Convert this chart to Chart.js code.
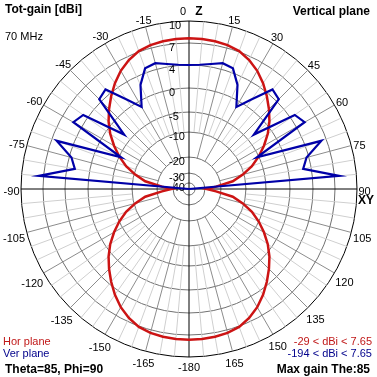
<!DOCTYPE html>
<html><head><meta charset="utf-8">
<script src="https://cdn.jsdelivr.net/npm/chart.js@4"></script>
<style>
html,body{margin:0;padding:0;background:#fff;}
#wrap{position:relative;width:377px;height:377px;overflow:hidden;font-family:"Liberation Sans",Arial,sans-serif;color:#000;}
canvas{position:absolute;left:0;top:0;}
.t{position:absolute;white-space:nowrap;line-height:1;}
.b{font-weight:bold;font-size:12px;}
.r{font-size:11px;}
</style></head><body>
<div id="wrap">
<canvas id="c" width="377" height="377"></canvas>
<div class="t b" style="left:5px;top:3px">Tot-gain [dBi]</div>
<div class="t r" style="left:5px;top:31px">70 MHz</div>
<div class="t b" style="right:7px;top:5px">Vertical plane</div>
<div class="t r" style="left:3px;top:336px;color:#c01818">Hor plane</div>
<div class="t r" style="left:3px;top:348px;color:#00008b">Ver plane</div>
<div class="t b" style="left:5px;top:363px">Theta=85, Phi=90</div>
<div class="t r" style="right:5px;top:336px;color:#c01818">-29 &lt; dBi &lt; 7.65</div>
<div class="t r" style="right:5px;top:348px;color:#00008b">-194 &lt; dBi &lt; 7.65</div>
<div class="t b" style="right:7px;top:363px">Max gain The:85</div>
</div>
<script>
// Angles (degrees, clockwise from zenith Z), 5 degree steps
const angles = [0,5,10,15,20,25,30,35,40,45,50,55,60,65,70,75,80,85,90,95,100,105,110,115,120,125,130,135,140,145,150,155,160,165,170,175,180,185,190,195,200,205,210,215,220,225,230,235,240,245,250,255,260,265,270,275,280,285,290,295,300,305,310,315,320,325,330,335,340,345,350,355];
// Horizontal plane gain (dBi)
const horGain = [7.65,7.62,7.55,7.4,7.1,6.5,5.7,4.7,3.5,2.1,0.7,-1.0,-3.0,-5.0,-7.5,-10.5,-15,-23,-29,-23,-15,-10.5,-7.5,-5.0,-3.0,-1.0,0.7,2.1,3.5,4.7,5.7,6.5,7.1,7.4,7.55,7.62,7.65,7.62,7.55,7.4,7.1,6.5,5.7,4.7,3.5,2.1,0.7,-1.0,-3.0,-5.0,-7.5,-10.5,-15,-23,-29,-23,-15,-10.5,-7.5,-5.0,-3.0,-1.0,0.7,2.1,3.5,4.7,5.7,6.5,7.1,7.4,7.55,7.62];
// Vertical plane gain (dBi), only -90..90 (above ground)
const verGain = [4.0,4.1,4.4,4.85,4.6,2.4,-1.3,1.5,4.8,4.4,-3.4,4.7,5.3,-5.5,6.3,3.6,2.6,7.65,-194,null,null,null,null,null,null,null,null,null,null,null,null,null,null,null,null,null,null,null,null,null,null,null,null,null,null,null,null,null,null,null,null,null,null,null,-194,7.65,2.6,3.6,6.3,-5.5,5.3,4.7,-3.4,4.4,4.8,1.5,-1.3,2.4,4.6,4.85,4.4,4.1];
// Radial (log-like) scale: ring values and their relative radius
const ringDb = [10,7,4,0,-5,-10,-20,-30,-40];
const ringFrac = [1.0,0.869,0.738,0.601,0.458,0.339,0.19,0.095,0.036];

function toR(db){
  if (db === null) return null;
  if (db >= ringDb[0]) return 1;
  for (let i=0;i<ringDb.length-1;i++){
    const a=ringDb[i], b=ringDb[i+1];
    if (db<=a && db>=b){
      return ringFrac[i+1] + (db-b)/(a-b)*(ringFrac[i]-ringFrac[i+1]);
    }
  }
  const last = ringFrac[ringFrac.length-1];
  return Math.max(0, last*(db+50)/10);
}

const FONT = '"Liberation Sans", Arial, sans-serif';

const polarGrid = {
  id:'polarGrid',
  beforeDatasetsDraw(chart){
    const s = chart.scales.r, ctx = chart.ctx;
    const cx = s.xCenter, cy = s.yCenter;
    const Rout = s.getDistanceFromCenterForValue(1);
    const r10 = s.getDistanceFromCenterForValue(toR(-10));
    const r20 = s.getDistanceFromCenterForValue(toR(-20));
    ctx.save();
    ctx.lineWidth = 1;
    // light 5-degree spokes
    for (let pass=0; pass<2; pass++){
      angles.forEach((a,i)=>{
        if (a % 90 === 0) return;
        const major = a % 15 === 0;
        if ((pass===0) === major) return;
        const r0 = major ? r20 : r10;
        const p0 = s.getPointPosition(i, r0), p1 = s.getPointPosition(i, Rout);
        ctx.strokeStyle = major ? '#8c8c8c' : '#cfcfcf';
        ctx.beginPath(); ctx.moveTo(p0.x, p0.y); ctx.lineTo(p1.x, p1.y); ctx.stroke();
      });
    }
    // main axes
    ctx.strokeStyle = '#000';
    [0,18].forEach(i=>{
      const p0 = s.getPointPosition(i, Rout), p1 = s.getPointPosition(i+36, Rout);
      ctx.beginPath(); ctx.moveTo(p0.x, p0.y); ctx.lineTo(p1.x, p1.y); ctx.stroke();
    });
    // ring labels
    ctx.font = '11px ' + FONT;
    ctx.fillStyle = '#000';
    ctx.textAlign = 'left';
    ctx.textBaseline = 'alphabetic';
    ringDb.forEach(db=>{
      const y = cy - s.getDistanceFromCenterForValue(toR(db));
      ctx.fillText(String(db), cx - 20, y + 8);
    });
    // angle labels
    angles.forEach((a,i)=>{
      if (a % 15 !== 0) return;
      const txt = a === 0 ? '0' : (a <= 180 ? (a===180 ? '-180' : String(a)) : String(a-360));
      const p = s.getPointPosition(i, Rout);
      const rad = a*Math.PI/180, sx = Math.sin(rad), cy2 = -Math.cos(rad);
      const w = ctx.measureText(txt).width, h = 8;
      let x, y;
      if (a === 0){ x = p.x - 6; y = p.y - 10; }
      else {
        const ext = Math.abs(sx)*w/2 + Math.abs(cy2)*h/2;
        const d = ext + 1.5;
        x = p.x + sx*d; y = p.y + cy2*d + 2*(1-Math.cos(rad));
      }
      ctx.textAlign = 'center';
      ctx.fillText(txt, x, y + 4);
    });
    // axis names
    ctx.font = 'bold 12px ' + FONT;
    const pz = s.getPointPosition(0, Rout), px = s.getPointPosition(18, Rout);
    ctx.textAlign = 'center';
    ctx.fillText('Z', pz.x + 10, pz.y - 6);
    ctx.fillText('XY', px.x + 9, px.y + 15);
    ctx.restore();
  }
};

new Chart(document.getElementById('c'), {
  type:'radar',
  data:{
    labels: angles.map(String),
    datasets:[
      {label:'Ver plane', data: verGain.map(toR), borderColor:'#0000a8', borderWidth:2.2, pointRadius:0, fill:false, spanGaps:false},
      {label:'Hor plane', data: horGain.map(toR), borderColor:'#cc1414', borderWidth:2.5, pointRadius:0, fill:false}
    ]
  },
  options:{
    responsive:false, animation:false,
    layout:{padding:{left:21,right:20,top:21,bottom:20}},
    plugins:{legend:{display:false}, tooltip:{enabled:false}},
    elements:{line:{tension:0}},
    scales:{
      r:{
        min:0, max:1, startAngle:0,
        ticks:{display:false},
        afterBuildTicks: sc => { sc.ticks = [0].concat(ringFrac.slice().reverse()).map(v=>({value:v})); },
        grid:{circular:true, lineWidth:1, color: c => (c.tick && c.tick.value === 1) ? '#000000' : '#707070'},
        angleLines:{display:false},
        pointLabels:{display:false}
      }
    }
  },
  plugins:[polarGrid]
});
</script>
</body></html>
